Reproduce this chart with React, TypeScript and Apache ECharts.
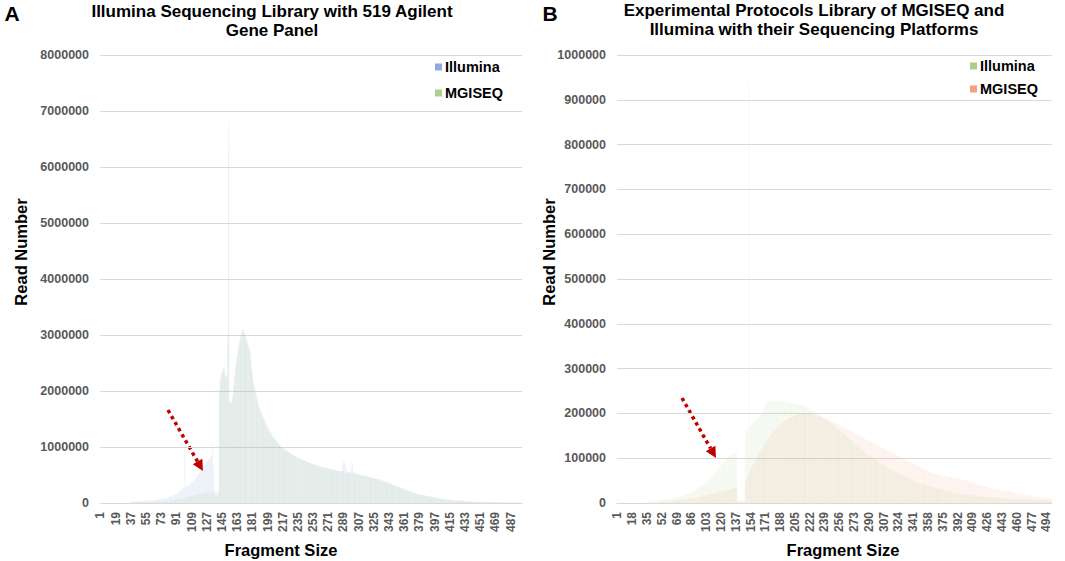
import React, { useEffect, useRef } from "react";
import * as echarts from "echarts";

// Fragment size categories 1..500
const fragmentSizes: string[] = Array.from({ length: 500 }, (_, i) => String(i + 1));

// Panel A – read numbers (in thousands) per fragment size
const illuminaA_k: number[] = [
  0,0,0,0,0,0,0,0,0,0,
  0,0,0,0,0,0,0,0,0,0,
  0,0,0,0,0,0,0,0,0,0,
  0,0,0,0,0,0,30,32,31,33,
  32,34,33,35,34,36,35,37,36,38,
  37,39,38,40,39,41,40,42,43,44,
  45,46,47,49,50,52,54,56,58,60,
  62,65,68,71,74,78,82,86,90,95,
  100,105,110,116,122,128,135,142,150,160,
  170,180,192,205,218,230,245,255,265,275,
  950,280,290,300,310,320,335,350,365,380,
  395,410,425,445,465,485,505,525,550,575,
  600,625,650,670,690,710,730,750,770,790,
  810,830,860,1050,650,250,150,140,130,140,
  160,2000,2200,2300,2350,2400,2450,2400,2300,2250,
  2300,3000,6800,1850,1800,1800,1850,1950,2100,2250,
  2400,2500,2600,2700,2800,2880,2950,3000,3050,3100,
  3050,3000,2950,2900,2850,2800,2750,2700,2550,2400,
  2280,2170,2080,2000,1930,1860,1800,1740,1690,1650,
  1610,1570,1530,1500,1470,1430,1400,1370,1340,1310,
  1280,1260,1230,1210,1180,1160,1140,1120,1100,1090,
  1070,1050,1040,1020,1010,1000,980,970,960,950,
  940,930,920,910,900,890,880,870,860,850,
  845,835,828,820,812,805,798,790,783,776,
  770,763,756,750,740,730,725,720,715,710,
  705,700,695,690,685,680,675,670,665,660,
  656,652,648,644,640,636,632,628,624,620,
  616,612,608,604,600,596,592,588,584,580,
  576,572,570,568,566,565,580,680,740,720,
  700,620,570,560,555,550,560,640,760,700,
  560,540,535,530,525,520,516,512,508,504,
  500,496,492,488,484,480,476,472,468,464,
  460,456,452,448,444,440,436,432,428,425,
  422,420,414,408,402,396,390,384,378,372,
  366,360,354,348,342,336,330,324,318,312,
  306,300,295,290,285,280,274,268,262,256,
  250,244,238,232,226,220,214,208,202,196,
  191,186,181,176,171,166,162,158,154,150,
  147,144,141,138,135,132,129,126,123,120,
  117,114,111,108,105,102,99,96,93,90,
  87,84,80,78,76,74,72,70,68,66,
  64,62,60,58,56,54,52,50,49,48,
  47,46,45,44,43,42,40,39,38,37,
  36,35,34,33,32,31,30,29,28,27,
  26,25,25,24,24,23,22,22,21,21,
  20,20,19,19,19,18,18,18,17,17,
  17,16,16,16,15,15,15,14,14,14,
  14,13,13,13,13,12,12,12,12,11,
  11,11,11,11,10,10,10,10,10,9,
  9,9,9,9,9,8,8,8,8,8,
];

const mgiseqA_k: number[] = [
  0,0,0,0,0,0,0,0,0,0,
  0,0,0,0,0,0,0,0,0,0,
  0,0,0,0,0,0,0,0,0,0,
  0,0,0,0,0,0,0,0,0,8,
  8,9,9,10,10,10,11,11,12,12,
  12,13,13,14,14,15,15,16,16,17,
  17,18,18,19,19,20,20,21,22,22,
  23,24,25,26,27,28,29,30,32,34,
  36,38,40,42,44,46,48,50,53,56,
  59,62,65,68,71,74,77,80,84,88,
  92,96,100,104,108,112,116,120,124,128,
  132,136,140,144,148,152,156,160,163,166,
  169,172,175,178,181,184,187,190,192,194,
  196,198,200,202,204,206,208,210,212,215,
  230,1900,2150,2250,2300,2350,2380,2350,2280,2220,
  2250,2900,6300,1800,1780,1790,1830,1950,2100,2260,
  2420,2530,2640,2740,2840,2920,2990,3040,3080,3120,
  3080,3040,3000,2950,2900,2850,2800,2750,2620,2480,
  2360,2250,2150,2070,2000,1930,1870,1810,1760,1710,
  1670,1630,1590,1550,1520,1480,1450,1420,1390,1360,
  1330,1300,1270,1250,1220,1200,1175,1150,1130,1110,
  1090,1070,1055,1040,1025,1010,995,980,968,956,
  944,932,920,908,896,884,874,864,854,844,
  835,826,818,810,802,795,788,781,774,768,
  762,756,750,744,738,732,726,720,714,708,
  702,697,692,687,682,677,672,667,662,657,
  652,648,644,640,636,632,628,624,620,616,
  612,608,604,600,597,594,591,588,585,582,
  579,576,573,570,567,564,561,558,555,552,
  549,546,543,540,537,534,531,528,525,522,
  519,516,513,510,507,504,501,498,495,492,
  489,486,483,480,477,474,471,468,465,462,
  458,454,450,446,442,438,434,430,426,422,
  418,414,409,404,399,394,389,384,379,374,
  368,362,356,350,344,338,332,326,320,314,
  308,302,297,292,287,282,276,270,264,258,
  252,246,240,234,228,222,216,210,204,198,
  193,188,183,178,173,168,164,160,156,152,
  148,145,142,139,136,133,130,127,124,121,
  118,115,112,109,106,103,100,97,94,91,
  88,85,82,80,78,76,74,72,70,68,
  66,64,62,60,58,56,54,52,51,50,
  49,48,47,46,45,44,42,41,40,39,
  38,37,36,35,34,33,32,31,30,29,
  28,27,27,26,26,25,24,24,23,23,
  22,22,21,21,21,20,20,20,19,19,
  19,18,18,18,17,17,17,16,16,16,
  16,15,15,15,15,14,14,14,14,13,
  13,13,13,13,12,12,12,12,12,11,
  11,11,11,11,11,10,10,10,10,10,
];

// Panel B – read numbers (in thousands) per fragment size
const illuminaB_k: number[] = [
  0,0,0,0,0,0,0,0,0,0,
  0,0,0,0,0,0,0,0,0,0,
  0,0,0,0,0,0,0,0,0,0,
  0,0,0,0,4,4,5,5,5,5,
  5,6,6,6,6,6,7,7,7,7,
  7,8,8,8,8,9,9,9,9,10,
  10,10,10,11,11,11,12,12,12,13,
  13,14,14,15,15,16,17,17,18,19,
  20,20,21,22,23,24,25,26,27,28,
  29,30,31,33,34,36,37,39,40,42,
  44,45,47,49,51,53,55,57,59,61,
  63,65,67,70,72,74,77,79,82,84,
  86,88,91,93,95,98,100,102,104,106,
  106,107,108,109,110,111,112,113,20,5,
  5,5,5,5,5,5,5,150,160,165,
  166,940,170,172,174,176,178,180,182,184,
  186,188,190,192,194,196,198,200,205,212,
  218,222,224,225,226,226,227,227,228,228,
  228,229,229,229,229,229,229,228,228,228,
  228,227,227,226,226,225,225,224,224,224,
  224,223,223,222,222,221,221,220,220,219,
  218,218,217,216,216,215,214,214,213,212,
  211,210,209,208,207,206,205,203,202,200,
  199,198,196,195,194,192,191,190,188,187,
  186,184,183,181,180,178,177,175,174,172,
  171,169,167,166,164,162,161,159,157,156,
  154,152,151,149,147,146,144,142,141,139,
  137,136,134,132,131,129,127,126,124,122,
  121,119,118,116,115,113,112,110,109,107,
  106,104,103,102,100,99,97,96,95,93,
  92,91,89,88,87,86,84,83,82,81,
  80,78,77,76,75,74,73,72,71,70,
  69,68,67,66,65,64,63,62,61,60,
  59,58,57,56,55,55,54,53,52,51,
  50,50,49,48,47,47,46,45,44,44,
  43,42,42,41,40,40,39,38,38,37,
  37,36,35,35,34,34,33,33,32,32,
  31,31,30,30,29,29,28,28,27,27,
  27,26,26,25,25,25,24,24,23,23,
  23,22,22,22,21,21,21,20,20,20,
  19,19,19,18,18,18,18,17,17,17,
  17,16,16,16,16,15,15,15,15,14,
  14,14,14,14,13,13,13,13,13,12,
  12,12,12,12,12,11,11,11,11,11,
  11,11,10,10,10,10,10,10,10,10,
  9,9,9,9,9,9,9,9,9,9,
  8,8,8,8,8,8,8,8,8,8,
  8,8,7,7,7,7,7,7,7,7,
  7,7,7,7,7,7,6,6,6,6,
  6,6,6,6,6,6,6,6,6,6,
];

const mgiseqB_k: number[] = [
  0,0,0,0,0,0,0,0,0,0,
  0,0,0,0,0,0,0,0,0,0,
  0,0,0,0,0,0,0,0,0,0,
  0,0,0,0,0,0,0,0,0,0,
  0,0,0,0,0,0,0,0,0,2,
  2,2,2,3,3,3,3,3,4,4,
  4,4,4,5,5,5,5,6,6,6,
  6,7,7,7,7,8,8,8,8,9,
  9,9,10,10,10,11,11,11,12,12,
  12,13,13,14,14,14,15,15,16,16,
  17,17,17,18,18,19,19,20,20,21,
  21,22,22,23,23,24,24,25,25,26,
  26,27,27,28,28,29,29,30,30,31,
  31,32,32,33,33,34,34,35,4,3,
  3,3,3,3,3,3,3,45,50,55,
  60,65,69,73,77,81,85,89,93,97,
  101,105,108,112,115,118,121,124,127,130,
  133,136,139,142,145,148,151,154,156,159,
  161,163,165,167,169,171,173,175,177,178,
  180,181,183,184,185,187,188,189,190,191,
  192,193,194,195,196,196,197,198,198,199,
  199,199,200,200,200,200,200,200,200,200,
  200,199,199,199,198,198,197,197,196,196,
  195,195,194,193,193,192,191,190,190,189,
  188,187,186,186,185,184,183,182,181,180,
  179,178,177,176,175,174,173,172,171,170,
  169,168,167,166,165,164,163,162,161,160,
  159,158,157,156,155,154,153,152,151,150,
  149,148,147,145,144,143,142,141,140,139,
  138,137,136,135,134,133,132,131,130,129,
  128,127,126,125,124,123,122,121,120,119,
  118,117,116,115,114,113,112,111,110,109,
  108,107,106,105,104,103,102,101,100,99,
  98,97,96,95,94,93,92,91,90,89,
  88,87,86,85,84,83,82,81,80,79,
  78,77,76,75,74,73,72,71,70,69,
  68,68,67,67,66,66,65,65,64,64,
  63,63,62,62,61,61,60,60,59,59,
  59,58,58,58,57,57,57,56,56,56,
  55,55,54,54,53,53,52,52,51,51,
  50,50,49,48,48,47,46,46,45,45,
  44,44,43,42,42,41,40,40,39,38,
  38,37,37,36,36,35,35,34,34,33,
  33,32,32,31,31,31,30,30,30,29,
  29,29,28,28,28,27,27,27,26,26,
  26,25,25,25,24,24,23,23,22,22,
  22,21,21,20,20,20,19,19,18,18,
  18,17,17,17,16,16,16,15,15,15,
  14,14,14,13,13,13,13,12,12,12,
  12,12,11,11,11,11,11,10,10,10,
];

const FONT = '"Liberation Sans", Arial, Helvetica, sans-serif';
const LABEL_GREY = "#595959";
const GRID_GREY = "#d9d9d9";

const BLUE = "#8FAADC";
const GREEN = "#A9D18E";
const ORANGE = "#F4A07A";
const RED = "#C00000";

function arrow(x1: number, y1: number, x2: number, y2: number) {
  const dx = x2 - x1;
  const dy = y2 - y1;
  const len = Math.sqrt(dx * dx + dy * dy);
  const ux = dx / len;
  const uy = dy / len;
  const nx = -uy;
  const ny = ux;
  const head = 11;
  const half = 5.5;
  const bx = x2 - ux * head;
  const by = y2 - uy * head;
  return [
    {
      type: "line",
      shape: { x1, y1, x2: bx, y2: by },
      style: { stroke: RED, lineWidth: 3.5, lineDash: [3.5, 3.5] },
      silent: true,
    },
    {
      type: "polygon",
      shape: {
        points: [
          [x2, y2],
          [bx + nx * half, by + ny * half],
          [bx - nx * half, by - ny * half],
        ],
      },
      style: { fill: RED },
      silent: true,
    },
  ];
}

function text(x: number, y: number, t: string, size: number, opts: any = {}) {
  return {
    type: "text",
    x,
    y,
    rotation: opts.rotation || 0,
    silent: true,
    style: {
      text: t,
      fill: opts.fill || "#000",
      font: `bold ${size}px ${FONT}`,
      textAlign: opts.align || "center",
      align: opts.align || "center",
      textVerticalAlign: "middle",
      verticalAlign: "middle",
      lineHeight: opts.lineHeight || size * 1.15,
    },
  };
}

function legendItem(x: number, y: number, color: string, label: string) {
  return [
    {
      type: "rect",
      shape: { x: x, y: y - 3.5, width: 7, height: 7 },
      style: { fill: color },
      silent: true,
    },
    text(x + 10, y, label, 14.5, { align: "left" }),
  ];
}

function xAxisCfg(gridIndex: number, interval: number) {
  return {
    type: "category",
    gridIndex,
    data: fragmentSizes,
    boundaryGap: true,
    axisTick: { show: false },
    axisLine: { show: true, lineStyle: { color: GRID_GREY, width: 1 } },
    axisLabel: {
      interval,
      rotate: 90,
      fontSize: 12,
      fontWeight: "bold",
      fontFamily: FONT,
      color: LABEL_GREY,
      margin: 9,
    },
    splitLine: { show: false },
  };
}

function yAxisCfg(gridIndex: number, max: number, interval: number) {
  return {
    type: "value",
    gridIndex,
    min: 0,
    max,
    interval,
    axisLine: { show: false },
    axisTick: { show: false },
    splitLine: { lineStyle: { color: GRID_GREY, width: 1 } },
    axisLabel: {
      fontSize: 12.5,
      fontWeight: "bold",
      fontFamily: FONT,
      color: LABEL_GREY,
      margin: 11,
      formatter: (v: number) => String(Math.round(v)),
    },
  };
}

function barSeries(name: string, data: number[], axis: number, color: string, opacity: number) {
  return {
    name,
    type: "bar",
    xAxisIndex: axis,
    yAxisIndex: axis,
    data: data.map((v) => v * 1000),
    barGap: "-100%",
    barCategoryGap: "25%",
    silent: true,
    itemStyle: { color, opacity },
    emphasis: { disabled: true },
  };
}

export default function App() {
  const ref = useRef<HTMLDivElement>(null);

  useEffect(() => {
    document.body.style.margin = "0";
    if (!ref.current) return;
    const chart = echarts.init(ref.current, undefined, { renderer: "svg" });
    const option: any = {
      animation: false,
      backgroundColor: "#ffffff",
      textStyle: { fontFamily: FONT },
      grid: [
        { left: 100, top: 55, width: 422, height: 448, containLabel: false },
        { left: 617, top: 55, width: 435, height: 448, containLabel: false },
      ],
      xAxis: [xAxisCfg(0, 17), xAxisCfg(1, 16)],
      yAxis: [yAxisCfg(0, 8000000, 1000000), yAxisCfg(1, 1000000, 100000)],
      series: [
        barSeries("Illumina", illuminaA_k, 0, BLUE, 0.13),
        barSeries("MGISEQ", mgiseqA_k, 0, GREEN, 0.1),
        barSeries("Illumina", illuminaB_k, 1, GREEN, 0.1),
        barSeries("MGISEQ", mgiseqB_k, 1, ORANGE, 0.1),
      ],
      graphic: [
        text(12, 13, "A", 21, { align: "center" }),
        text(550, 13, "B", 21, { align: "center" }),
        text(272, 21, "Illumina Sequencing Library with 519 Agilent\nGene Panel", 17, { lineHeight: 19 }),
        text(814, 20, "Experimental Protocols Library of MGISEQ and\nIllumina with their Sequencing Platforms", 17, { lineHeight: 18.5 }),
        text(21, 252, "Read Number", 16.5, { rotation: Math.PI / 2 }),
        text(549, 252, "Read Number", 16.5, { rotation: Math.PI / 2 }),
        text(281, 550, "Fragment Size", 16.5),
        text(843, 550, "Fragment Size", 16.5),
        ...legendItem(435, 67, BLUE, "Illumina"),
        ...legendItem(435, 93, GREEN, "MGISEQ"),
        ...legendItem(970, 66, GREEN, "Illumina"),
        ...legendItem(970, 89, ORANGE, "MGISEQ"),
        ...arrow(168, 410, 203, 471),
        ...arrow(682, 398, 716, 458),
      ],
    };
    chart.setOption(option);
    return () => {
      chart.dispose();
    };
  }, []);

  return <div ref={ref} style={{ width: 1065, height: 561 }} />;
}
